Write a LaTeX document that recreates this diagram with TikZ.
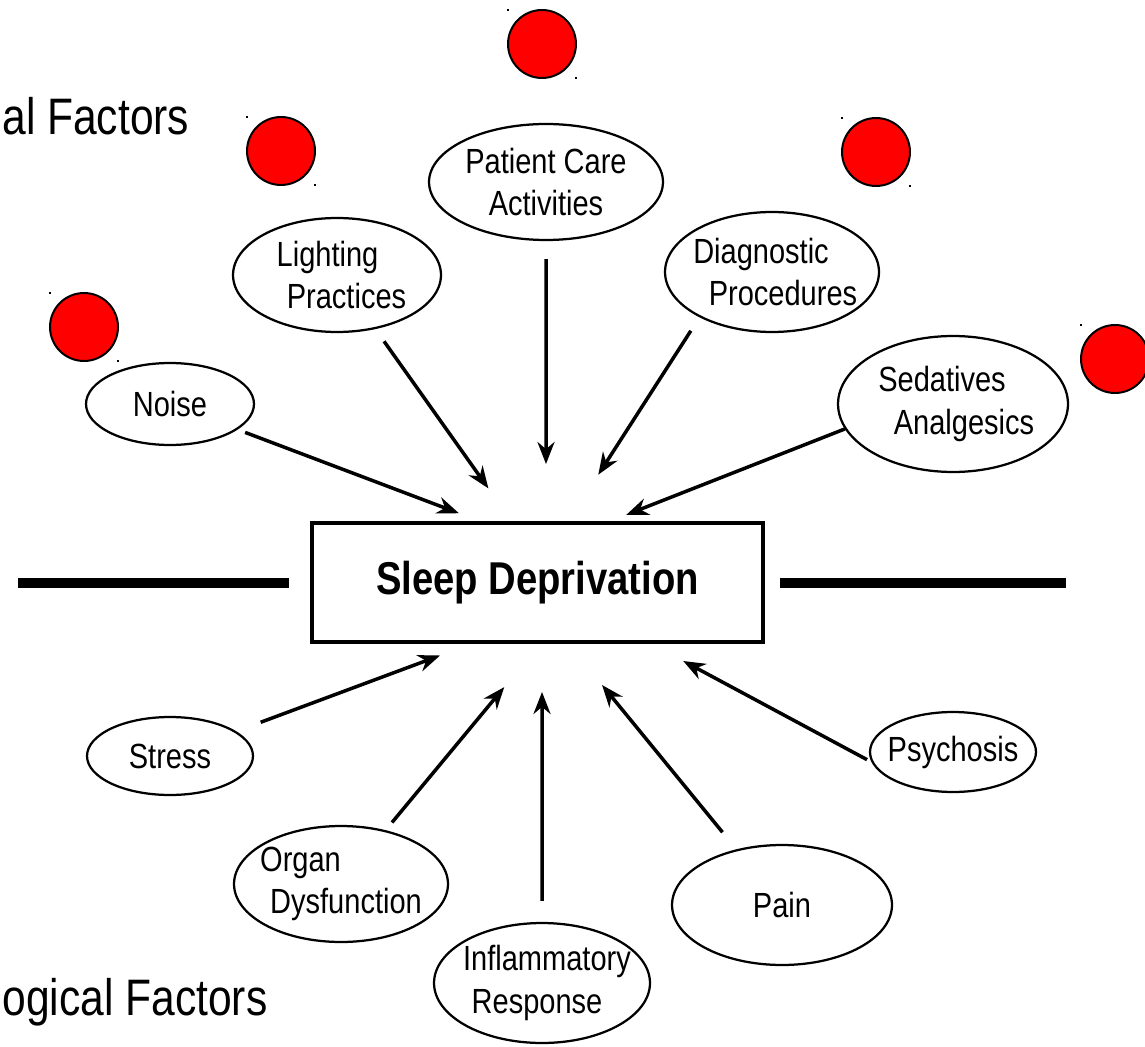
\documentclass[tikz,border=0pt]{standalone}
\usepackage{fontspec}
\setmainfont[FakeStretch=0.83]{Liberation Sans}
\usetikzlibrary{shapes.geometric, arrows.meta, calc}
\definecolor{alarm}{RGB}{255,0,0}

\begin{document}
\begin{tikzpicture}[
    x=0.02cm, y=-0.02cm,
    factor/.style 2 args={ellipse, draw, line width=0.045cm, inner xsep=-0.3cm, inner ysep=0pt, minimum width=#1, minimum height=#2, font=\fontsize{19.9}{24}\selectfont, align=center},
    core/.style={rectangle, draw, line width=0.08cm, minimum width=9.02cm, minimum height=2.38cm, font=\bfseries\fontsize{26.2}{31}\selectfont},
    title/.style={anchor=base west, inner sep=0pt, font=\fontsize{29.2}{35}\selectfont},
    arr/.style={-{Stealth[length=0.44cm, width=0.34cm]}, line width=0.07cm},
    bar/.style={line width=0.2cm},
    marker/.style={circle, draw, fill=alarm, line width=0.04cm, minimum size=1.36cm, inner sep=0pt},
]
\useasboundingbox[fill=white] (0,0) rectangle (1145,1047);

% headings, cut at the left edge
\node[title] (envtitle)  at (2,135)  {al Factors};
\node[title] (phystitle) at (2,1015) {ogical Factors};

\node[core] (sleep) at (537.5,582.5) {Sleep Deprivation};

% upper factors
\node[factor={3.36cm}{1.64cm}] (noise)   at (170,404) {Noise};
\node[factor={4.16cm}{2.28cm}] (light)   at (337,275) {Lighting\hspace*{0.38cm}\\\hspace*{0.38cm}Practices};
\node[factor={4.68cm}{2.32cm}] (patient) at (546,182) {Patient Care\\Activities};
\node[factor={4.28cm}{2.40cm}] (diag)    at (772,272) {Diagnostic\hspace*{0.44cm}\\\hspace*{0.44cm}Procedures};
\node[factor={4.60cm}{2.72cm}] (sed)     at (953,404) {Sedatives\hspace*{0.44cm}\\\hspace*{0.44cm}Analgesics};

% lower factors
\node[factor={3.32cm}{1.56cm}] (stress)  at (170,756) {Stress};
\node[factor={4.28cm}{2.32cm}, align=left] (organ) at (341,884) {Organ\\\hspace*{0.2cm}Dysfunction};
\node[factor={4.32cm}{2.40cm}] (inflam)  at (542,983) {\hspace*{0.2cm}Inflammatory\\Response\hspace*{0.2cm}};
\node[factor={4.40cm}{2.40cm}] (pain)    at (782,905) {Pain};
\node[factor={3.32cm}{1.60cm}] (psych)   at (953,752) {Psychosis};

% red markers
\node[marker] (m1) at (84,327)  {};
\node[marker] (m2) at (281,151) {};
\node[marker] (m3) at (542,44)  {};
\node[marker] (m4) at (876,152) {};
\node[marker] (m5) at (1115,359) {};
\foreach \i in {1,...,5}{
    \fill ($(m\i)+(-35,-35)$) rectangle +(2,2);
    \fill ($(m\i)+(33,33)$) rectangle +(2,2);
}

% side bars
\coordinate (barL1) at (18,583);
\coordinate (barL2) at (289,583);
\coordinate (barR1) at (780,583);
\coordinate (barR2) at (1066,583);
\draw[bar] (barL1) -- (barL2);
\draw[bar] (barR1) -- (barR2);

\draw[arr, shorten <=0.16cm, shorten >=0.44cm] (noise) -- ($(sleep.north)+(-58,0)$);
\draw[arr, shorten <=0.30cm, shorten >=0.80cm] (light) -- ($(sleep.north)+(-26,0)$);
\draw[arr, shorten <=0.36cm, shorten >=1.14cm] (patient) -- ($(sleep.north)+(8.5,0)$);
\draw[arr, shorten <=0.32cm, shorten >=1.10cm] (diag.212) -- ($(sleep.north)+(31,0)$);
\draw[arr, shorten >=0.34cm] (sed.193) -- ($(sleep.north)+(73,0)$);
\draw[arr, shorten <=0.52cm, shorten >=0.66cm] (stress) -- ($(sleep.south)+(-66.5,0)$);
\draw[arr, shorten <=0.20cm, shorten >=1.12cm] (organ) -- ($(sleep.south)+(2.5,0)$);
\draw[arr, shorten <=0.42cm, shorten >=0.96cm] (inflam) -- ($(sleep.south)+(4.5,0)$);
\draw[arr, shorten <=0.44cm, shorten >=1.06cm] (pain) -- ($(sleep.south)+(31,0)$);
\draw[arr, shorten <=0.10cm, shorten >=0.72cm] (psych.187) -- ($(sleep.south)+(114,0)$);
\end{tikzpicture}
\end{document}
